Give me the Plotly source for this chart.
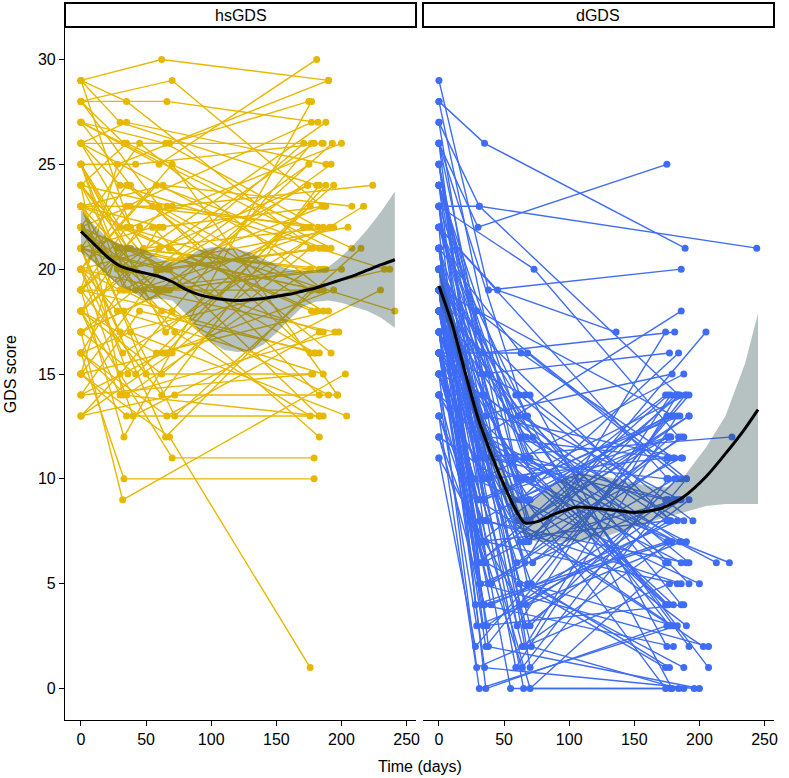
import plotly.graph_objects as go

# ---------------- data: hsGDS panel (one entry per subject) ----------------
BASELINE_DAY = 0
hs_score0 = [29, 29, 28, 28, 27, 27, 26, 26, 26, 25,
             25, 25, 24, 24, 24, 23, 23, 23, 23, 22,
             22, 22, 22, 22, 21, 21, 21, 21, 21, 20,
             20, 20, 20, 20, 19, 19, 19, 19, 19, 18,
             18, 18, 18, 17, 17, 17, 16, 16, 16, 15,
             15, 15, 14, 14, 13, 13, 25, 27, 24, 22,
             20, 23, 26, 21, 18, 19, 28, 29, 17, 16,
             24, 22, 20, 25, 23, 21, 19, 18, 26, 14,
             27, 15, 20, 21, 22, 24, 23, 19, 17, 20,
             29, 16, 13, 28, 21, 22, 18, 15, 25, 23]
hs_day1 = [35, 62, 33, 66, 38, 60, 35, 48, 68, 30,
           42, 65, 32, 58, 70, 28, 36, 63, 50, 33,
           45, 62, 72, 38, 30, 55, 65, 35, 68, 32,
           60, 40, 70, 28, 35, 62, 33, 48, 66, 30,
           58, 36, 70, 32, 65, 42, 33, 60, 38, 28,
           68, 35, 63, 45, 30, 72, 33, 65, 36, 60,
           35, 68, 30, 40, 62, 28, 70, 38, 33, 66,
           35, 72, 58, 32, 63, 36, 70, 45, None, None,
           None, 65, 30, 60, 35, 42, 55, 38, 62, 68,
           30, 35, 70, 60, 33, 66, 40, 62, 36, 58]
hs_score1 = [28, 30, 26, 28, 24, 25, 27, 21, 26, 22,
             25, 17, 14, 20, 23, 20, 19, 24, 15, 20,
             26, 18, 13, 23, 17, 22, 12, 24, 20, 16,
             21, 13, 25, 18, 22, 14, 12, 19, 23, 14,
             16, 20, 11, 9, 19, 15, 10, 22, 17, 21,
             12, 13, 16, 18, 15, 14, 19, 26, 21, 19,
             23, 21, 24, 20, 15, 25, 29, 22, 18, 13,
             26, 17, 24, 20, 22, 15, 18, 22, None, None,
             None, 16, 19, 20, 21, 19, 23, 21, 20, 19,
             27, 14, 16, 23, 19, 20, 20, 20, 21, 19]
hs_day2 = [178, 190, 185, 182, 176, 181, 188, 192, 175, 177,
           186, 194, 183, 171, 224, 188, 176, 208, 177, 205,
           186, 179, 215, 191, 237, 183, 176, 192, 188, 217,
           174, 230, 197, 186, 241, 183, 177, 195, 176, 198,
           190, 183, 179, 203, 186, 176, 179, 188, 204, 183,
           176, 186, 194, 183, 177, 197, 174, 182, 188, 192,
           177, 181, 233, 186, 176, 190, 185, 200, 171, 183,
           208, 176, 186, None, None, None, None, None, 183, 178,
           192, 188, 177, 183, 176, 194, 186, 180, 175, 193,
           181, 176, 186, 177, 190, 183, 179, 187, 182, 200]
hs_score2 = [21, 29, 26, 27, 16, 30, 25, 22, 28, 18,
             26, 24, 13, 26, 24, 27, 20, 23, 15, 22,
             19, 16, 21, 22, 20, 14, 19, 16, 21, 23,
             24, 19, 14, 15, 18, 24, 28, 17, 22, 17,
             18, 12, 11, 15, 20, 23, 10, 23, 13, 19,
             1, 13, 19, 16, 26, 14, 24, 22, 20, 25,
             27, 18, 20, 17, 21, 29, 23, 26, 22, 17,
             21, 13, 21, None, None, None, None, None, 20, 15,
             21, 24, 19, 21, 20, 22, 18, 16, 25, 26,
             24, 20, 22, 19, 14, 13, 26, 23, 19, 20]

# ---------------- data: dGDS panel ----------------
d_score0 = [29, 28, 27, 26, 26, 25, 25, 24, 24, 24,
            23, 23, 23, 22, 22, 22, 22, 21, 21, 21,
            21, 20, 20, 20, 20, 20, 20, 19, 19, 19,
            19, 19, 19, 19, 18, 18, 18, 18, 18, 18,
            18, 17, 17, 17, 17, 17, 17, 16, 16, 16,
            16, 16, 16, 15, 15, 15, 15, 15, 14, 14,
            14, 14, 13, 13, 13, 12, 12, 11, 11, 24,
            23, 22, 21, 20, 19, 18, 17, 16, 15, 21,
            20, 19, 18, 17, 16, 22, 23, 20, 19, 18,
            21, 24, 25, 26, 27, 20, 19, 18, 17, 16,
            22, 21, 20, 19, 23, 24, 18, 17, 20, 21,
            19, 22, 18, 20, 16, 25, 14, 26, 28, 12]
d_day1 = [38, 35, 31, 30, 62, 33, 68, 29, 66, 36,
          73, 31, 60, 37, 70, 45, 28, 65, 33, 63,
          38, 70, 29, 66, 35, 59, 72, 32, 67, 30,
          61, 36, 69, 40, 28, 64, 34, 70, 55, 31,
          66, 37, 62, 29, 71, 35, 58, 32, 68, 40,
          27, 63, 36, 70, 30, 66, 33, 60, 38, 67,
          29, 72, 34, 64, 31, 69, 36, 62, 28, 65,
          35, 68, 31, 70, 37, 62, 33, 66, 29, 64,
          38, 71, 30, 60, 35, 67, 32, 69, 34, 63,
          30, 66, 36, 58, 70, 33, 61, 38, 68, 31,
          65, 37, 59, 29, 72, 34, 67, 30, 62, 36,
          None, None, 64, 33, 70, 35, 66, 31, 68, 35]
d_score1 = [19, 26, 23, 22, 14, 12, 5, 18, 9, 7,
            20, 23, 3, 15, 11, 19, 4, 0, 10, 16,
            2, 8, 13, 6, 14, 1, 12, 9, 4, 17,
            10, 0, 7, 5, 11, 2, 6, 14, 0, 8,
            13, 3, 9, 12, 5, 1, 11, 7, 16, 4,
            10, 12, 2, 0, 9, 3, 14, 8, 5, 10,
            3, 6, 8, 1, 0, 9, 6, 4, 2, 12,
            9, 13, 6, 3, 11, 7, 4, 14, 1, 9,
            12, 2, 13, 6, 11, 8, 5, 11, 3, 10,
            7, 2, 13, 9, 1, 15, 13, 10, 7, 5,
            11, 8, 14, 6, 10, 16, 12, 9, 5, 12,
            None, None, 8, 7, 9, 10, 7, 11, 8, 4]
d_day2 = [186, 189, 184, 175, 178, 186, 180, 190, 174, 183,
          184, 244, 178, 192, 176, 136, 175, 178, 188, 180,
          200, 185, 176, 174, 192, 183, 207, 176, 186, 178,
          190, 175, 205, 181, 225, 178, 186, 175, 188, 179,
          192, 176, 184, 213, 177, 196, 180, 174, 186, 183,
          200, 177, 189, 176, 185, 192, 175, 203, 181, 174,
          186, 178, 190, 176, 183, 175, 188, 177, 192, 185,
          178, 186, 176, 183, 174, 188, 180, 195, 177, 190,
          176, 184, 179, 186, 175, 192, 181, 174, 188, 223,
          176, 183, 187, 178, 190, 177, 185, 175, 182, 207,
          176, 186, 179, 192, 175, 181, 188, 178, 174, 190,
          180, 176, None, None, None, None, 183, 186, 176, 179]
d_score2 = [20, 21, 14, 25, 8, 18, 3, 10, 0, 5,
            12, 21, 14, 2, 9, 17, 7, 0, 15, 11,
            0, 14, 4, 17, 6, 13, 1, 12, 9, 8,
            14, 3, 17, 10, 12, 7, 11, 2, 0, 13,
            5, 9, 16, 6, 1, 0, 4, 14, 10, 8,
            5, 3, 14, 6, 13, 9, 8, 2, 11, 4,
            7, 12, 6, 10, 3, 13, 1, 8, 14, 7,
            13, 4, 14, 10, 9, 12, 2, 8, 5, 3,
            11, 0, 15, 12, 10, 13, 9, 6, 4, 6,
            8, 14, 11, 12, 10, 16, 9, 11, 14, 2,
            7, 5, 0, 13, 4, 17, 8, 3, 1, 7,
            13, 10, None, None, None, None, 9, 6, 12, 7]

# ---------------- smoother (loess fit + 95% CI) ----------------
hs_fit_day = [0, 10, 20, 30, 40, 50, 60, 70, 80, 90, 100, 110, 120, 130, 140, 150,
              160, 170, 180, 190, 200, 210, 220, 230, 241]
hs_fit = [21.8, 21.2, 20.6, 20.15, 19.95, 19.8, 19.65, 19.4, 19.05, 18.8, 18.65, 18.55,
          18.5, 18.55, 18.6, 18.7, 18.8, 18.95, 19.1, 19.3, 19.5, 19.7, 19.95, 20.2, 20.45]
hs_lo = [20.8, 20.3, 19.7, 19.2, 18.9, 18.5, 18.6, 18.5, 17.9, 17.1, 16.5, 16.15,
         16.05, 16.1, 16.4, 16.95, 17.6, 18.2, 18.45, 18.5, 18.4, 18.2, 18.0, 17.7, 17.2]
hs_hi = [22.8, 22.1, 21.5, 21.2, 21.1, 20.9, 20.5, 20.3, 20.5, 20.9, 21.05, 21.05,
         20.95, 20.8, 20.5, 20.2, 20.0, 19.9, 19.95, 20.1, 20.6, 21.2, 21.9, 22.7, 23.7]

d_fit_day = [0, 10, 20, 30, 40, 50, 60, 66, 75, 90, 105, 120, 135, 150, 165, 175,
             188, 205, 220, 235, 245]
d_fit = [19.2, 17.4, 15.1, 12.9, 11.2, 9.7, 8.4, 7.9, 7.95, 8.35, 8.65, 8.6, 8.5,
         8.4, 8.5, 8.7, 9.15, 10.1, 11.2, 12.4, 13.3]
d_lo = [18.5, 16.8, 14.5, 12.3, 10.6, 9.1, 7.8, 7.2, 7.0, 7.0, 7.0, 7.1, 7.4, 7.7,
        8.0, 8.2, 8.4, 8.7, 8.8, 8.8, 8.8]
d_hi = [19.9, 18.0, 15.7, 13.5, 11.8, 10.3, 9.1, 8.7, 9.1, 9.8, 10.3, 10.2, 10.0,
        9.8, 9.6, 9.6, 10.1, 11.5, 13.0, 15.5, 17.9]

panel_labels = ["hsGDS", "dGDS"]
x_ticks = [0, 50, 100, 150, 200, 250]
y_ticks = [0, 5, 10, 15, 20, 25, 30]

for lst in (hs_day1, hs_score1, hs_day2, hs_score2):
    assert len(lst) == len(hs_score0), len(lst)
for lst in (d_day1, d_score1, d_day2, d_score2):
    assert len(lst) == len(d_score0), len(lst)

YELLOW = "#E7B800"
BLUE = "#3E6CF4"
BAND = "rgba(47,79,79,0.35)"
FONT = "Liberation Sans, Arial, Helvetica, sans-serif"


def spaghetti(s0, t1, s1, t2, s2):
    xs, ys = [], []
    for i in range(len(s0)):
        for d, s in ((BASELINE_DAY, s0[i]), (t1[i], s1[i]), (t2[i], s2[i])):
            if s is not None:
                xs.append(d)
                ys.append(s)
        xs.append(None)
        ys.append(None)
    return xs, ys


fig = go.Figure()

panels = [
    (spaghetti(hs_score0, hs_day1, hs_score1, hs_day2, hs_score2), YELLOW,
     hs_fit_day, hs_fit, hs_lo, hs_hi, "x", "y"),
    (spaghetti(d_score0, d_day1, d_score1, d_day2, d_score2), BLUE,
     d_fit_day, d_fit, d_lo, d_hi, "x2", "y2"),
]

for (xs, ys), col, fx, fy, lo, hi, xa, ya in panels:
    fig.add_trace(go.Scatter(x=xs, y=ys, mode="lines+markers", connectgaps=False,
                             line=dict(color=col, width=1.4),
                             marker=dict(color=col, size=7),
                             xaxis=xa, yaxis=ya, hoverinfo="skip", showlegend=False))
    fig.add_trace(go.Scatter(x=fx + fx[::-1], y=hi + lo[::-1], mode="lines",
                             fill="toself", fillcolor=BAND,
                             line=dict(width=0),
                             xaxis=xa, yaxis=ya, hoverinfo="skip", showlegend=False))
    fig.add_trace(go.Scatter(x=fx, y=fy, mode="lines",
                             line=dict(color="black", width=3, shape="spline", smoothing=0.8),
                             xaxis=xa, yaxis=ya, hoverinfo="skip", showlegend=False))

W, H = 789, 778
ML, MR, MT, MB = 65, 11, 28, 58
pw = W - ML - MR
ph = H - MT - MB
gap = 7 / pw
d1 = [0, 0.5 - gap / 2]
d2 = [0.5 + gap / 2, 1]

TICK_SIZE = 16
TITLE_SIZE = 16

xcommon = dict(range=[-12.25, 257.25], tickvals=x_ticks, showgrid=False, zeroline=False,
               showline=True, linecolor="black", linewidth=1.2, ticks="outside",
               ticklen=5, tickwidth=1.2, tickcolor="black",
               tickfont=dict(family=FONT, size=TICK_SIZE, color="black"))
ycommon = dict(range=[-1.5, 31.5], tickvals=y_ticks, showgrid=False, zeroline=False)

fig.update_layout(
    width=W, height=H,
    margin=dict(l=ML, r=MR, t=MT, b=MB),
    paper_bgcolor="white", plot_bgcolor="white",
    font=dict(family=FONT, size=TICK_SIZE, color="black"),
    xaxis=dict(domain=d1, anchor="y", **xcommon),
    xaxis2=dict(domain=d2, anchor="y2", **xcommon),
    yaxis=dict(anchor="x", showline=True, linecolor="black", linewidth=1.2,
               ticks="outside", ticklen=5, tickwidth=1.2, tickcolor="black",
               tickfont=dict(family=FONT, size=TICK_SIZE, color="black"), **ycommon),
    yaxis2=dict(anchor="x2", matches="y", showline=False, showticklabels=False,
                ticks="", **ycommon),
)

strip_h = 25 / ph
shapes = []
annotations = []
for dom, lab in zip((d1, d2), panel_labels):
    shapes.append(dict(type="rect", xref="paper", yref="paper",
                       x0=dom[0], x1=dom[1], y0=1 + 1 / ph, y1=1 + strip_h,
                       line=dict(color="black", width=2), fillcolor="white"))
    annotations.append(dict(text=lab, xref="paper", yref="paper",
                            x=(dom[0] + dom[1]) / 2, y=1 + (1 + strip_h * ph) / 2 / ph,
                            xanchor="center", yanchor="middle", showarrow=False,
                            font=dict(family=FONT, size=TITLE_SIZE, color="black")))

annotations.append(dict(text="Time (days)", xref="paper", yref="paper", x=0.5,
                        y=-(766 - (H - MB)) / ph, xanchor="center", yanchor="middle",
                        showarrow=False, font=dict(family=FONT, size=TITLE_SIZE, color="black")))
annotations.append(dict(text="GDS score", xref="paper", yref="paper",
                        x=-(ML - 10) / pw, y=0.5, xanchor="center", yanchor="middle",
                        textangle=-90, showarrow=False,
                        font=dict(family=FONT, size=TITLE_SIZE, color="black")))

fig.update_layout(shapes=shapes, annotations=annotations)

fig.write_html("out.html")
